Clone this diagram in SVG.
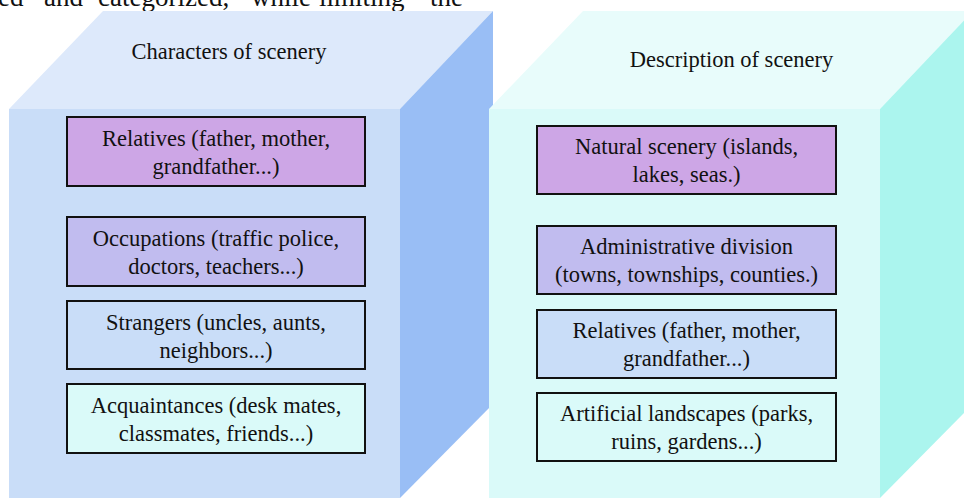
<svg xmlns="http://www.w3.org/2000/svg" width="964" height="498" viewBox="0 0 964 498">
  <style>
    text { font-family: "Liberation Serif", "Times New Roman", "DejaVu Serif", serif; fill: #111; }
    .lbl { font-size: 22.5px; text-anchor: middle; }
    .ttl { font-size: 22.5px; text-anchor: middle; }
    .para { font-size: 27px; }
    .box { stroke: #111; stroke-width: 2; }
    .purple { fill: #CDA6E6; }
    .lav { fill: #C1BCEF; }
    .blue { fill: #C9DDF8; }
    .cyan { fill: #DAFAF9; }
  </style>

  <!-- clipped paragraph text at the top -->
  <text class="para" y="6"><tspan x="-2">ed</tspan><tspan x="44">and</tspan><tspan x="98">categorized,</tspan><tspan x="251">while</tspan><tspan x="319">limiting</tspan><tspan x="430">the</tspan></text>

  <g id="cube-characters">
    <polygon points="9,109 400,109 493,11 103,11" fill="#DDE9FB"/>
    <rect x="9" y="109" width="391" height="389" fill="#C9DDF8"/>
    <polygon points="400,109 493,11 493,404 400,498" fill="#99BEF5"/>
    <text class="ttl" x="229" y="59">Characters of scenery</text>
  </g>

  <g id="cube-description">
    <polygon points="489,109 880,109 973,11 583,11" fill="#E8FCFB"/>
    <rect x="489" y="109" width="391" height="389" fill="#DAFAF9"/>
    <polygon points="880,109 973,11 973,404 880,498" fill="#ABF5EE"/>
    <text class="ttl" x="731.5" y="67">Description of scenery</text>
  </g>

  <g id="c-relatives">
    <rect class="box purple" x="67" y="117" width="298" height="69"/>
    <text class="lbl" x="216" y="145.5">Relatives (father, mother,</text>
    <text class="lbl" x="216" y="173.5">grandfather...)</text>
  </g>
  <g id="c-occupations">
    <rect class="box lav" x="67" y="217" width="298" height="69"/>
    <text class="lbl" x="216" y="245.5">Occupations (traffic police,</text>
    <text class="lbl" x="216" y="273.5">doctors, teachers...)</text>
  </g>
  <g id="c-strangers">
    <rect class="box blue" x="67" y="301" width="298" height="68"/>
    <text class="lbl" x="216" y="330">Strangers (uncles, aunts,</text>
    <text class="lbl" x="216" y="358">neighbors...)</text>
  </g>
  <g id="c-acquaintances">
    <rect class="box cyan" x="67" y="384" width="298" height="69"/>
    <text class="lbl" x="216" y="413">Acquaintances (desk mates,</text>
    <text class="lbl" x="216" y="441">classmates, friends...)</text>
  </g>

  <g id="d-natural">
    <rect class="box purple" x="537" y="126" width="299" height="68"/>
    <text class="lbl" x="686.5" y="153.5">Natural scenery (islands,</text>
    <text class="lbl" x="686.5" y="181.5">lakes, seas.)</text>
  </g>
  <g id="d-administrative">
    <rect class="box lav" x="537" y="226" width="299" height="68"/>
    <text class="lbl" x="686.5" y="254">Administrative division</text>
    <text class="lbl" x="686.5" y="282">(towns, townships, counties.)</text>
  </g>
  <g id="d-relatives">
    <rect class="box blue" x="537" y="310" width="299" height="68"/>
    <text class="lbl" x="686.5" y="338">Relatives (father, mother,</text>
    <text class="lbl" x="686.5" y="366">grandfather...)</text>
  </g>
  <g id="d-artificial">
    <rect class="box cyan" x="537" y="393" width="299" height="68"/>
    <text class="lbl" x="686.5" y="421">Artificial landscapes (parks,</text>
    <text class="lbl" x="686.5" y="449">ruins, gardens...)</text>
  </g>

  <g id="connectors"/>
</svg>
